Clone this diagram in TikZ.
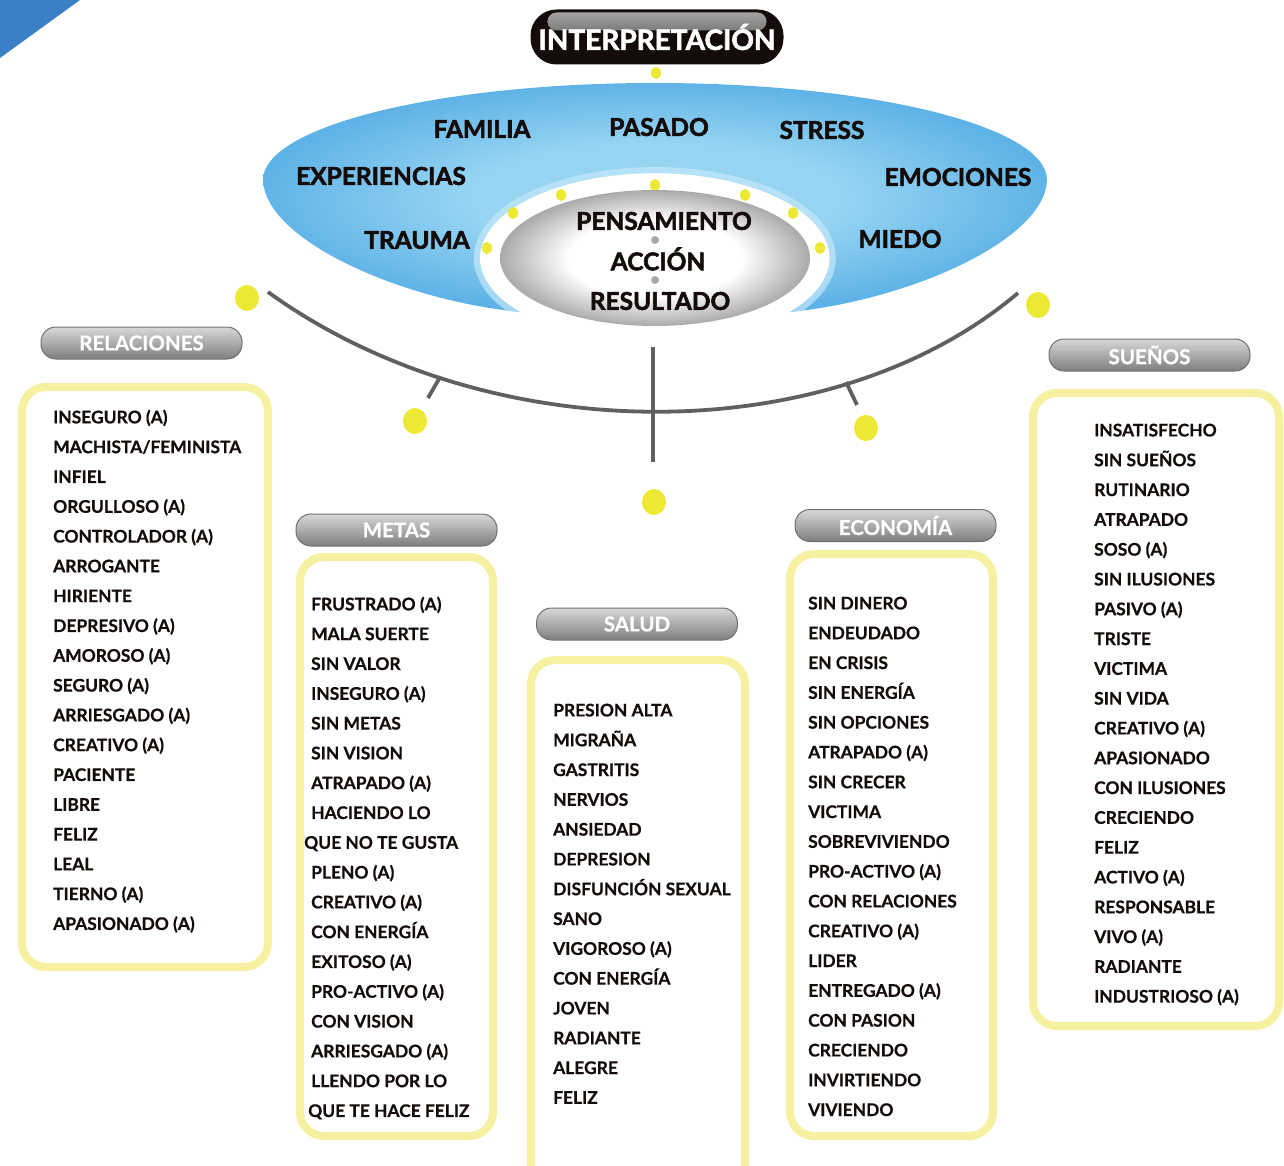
\documentclass[tikz,border=0pt]{standalone}
\usepackage{fontspec}
\setmainfont{Lato}
\newfontfamily\heavy{Lato}[BoldFeatures={FakeBold=2.2}]
\newfontfamily\semi{Lato}[BoldFeatures={FakeBold=0.6}]
\usetikzlibrary{positioning}
\definecolor{dotYel}{RGB}{236,232,52}
\definecolor{boxYel}{RGB}{246,241,160}
\definecolor{capBlue}{RGB}{59,128,198}
\definecolor{bowlIn}{RGB}{150,212,242}
\definecolor{bowlOut}{RGB}{34,142,218}
\definecolor{bowlRim}{RGB}{196,232,250}
\definecolor{eggOut}{RGB}{170,170,172}
\definecolor{hdTop}{RGB}{216,216,218}
\definecolor{hdMid}{RGB}{168,168,170}
\definecolor{hdBot}{RGB}{126,126,128}
\definecolor{hdLine}{RGB}{112,112,114}
\definecolor{arcGray}{RGB}{96,96,98}
\definecolor{inkBlack}{RGB}{20,12,10}
\definecolor{glossTop}{RGB}{170,170,170}
\definecolor{glossBot}{RGB}{50,48,48}
\pgfdeclareradialshading{bowl}{\pgfpoint{0bp}{0bp}}{color(0bp)=(bowlIn); color(12bp)=(bowlIn); color(40bp)=(bowlOut); color(60bp)=(bowlOut)}
\pgfdeclareradialshading{egg}{\pgfpoint{0bp}{0bp}}{color(0bp)=(white); color(14bp)=(white); color(25bp)=(eggOut); color(50bp)=(eggOut)}
\newcommand{\bowlpath}{(520,312) .. controls (400,300) and (265,240) .. (263,180)
  arc[start angle=180, end angle=360, x radius=392, y radius=97]
  .. controls (1045,240) and (910,300) .. (790,312)
  arc[start angle=39.4, end angle=-219.4, x radius=175, y radius=85] -- cycle}

\begin{document}
\begin{tikzpicture}[x=1pt,y=-1pt,
  ttl/.style ={fill=inkBlack,rounded corners=26pt,minimum width=253pt,minimum height=55pt,inner sep=0pt,
               text=white,font=\fontsize{28}{28}\selectfont\heavy\bfseries,
               path picture={\shade[top color=glossTop,bottom color=glossBot,rounded corners=9pt]
                 ([xshift=17pt,yshift=-3pt]path picture bounding box.north west) rectangle
                 ([xshift=-17pt,yshift=-21pt]path picture bounding box.north east);}},
  word/.style={text=inkBlack,inner sep=0pt,font=\fontsize{24.5}{24.5}\selectfont\heavy\bfseries},
  hdr/.style ={draw=hdLine,line width=1pt,rounded corners=15pt,top color=hdTop,middle color=hdMid,bottom color=hdBot,
               minimum width=201pt,minimum height=32pt,inner sep=0pt,text=white,font=\fontsize{20.5}{20.5}\selectfont\semi\bfseries},
  box/.style ={draw=boxYel,line width=8pt,rounded corners=24pt,fill=white},
  lst/.style ={align=left,anchor=north west,inner sep=0pt,text=inkBlack,font=\fontsize{17.4}{29.8}\selectfont\semi\bfseries},
  ydot/.style={fill=dotYel},
  bar/.style ={draw=arcGray,line width=3.8pt}]
\useasboundingbox (0,0) rectangle (1284,1166);

% corner tab
\fill[capBlue] (0,0) -- (80,0) -- (0,58) -- cycle;

% title
\node[ttl] (interp) at (657,37) {INTERPRETACIÓN};
\fill[ydot] (656,73) ellipse [x radius=5, y radius=6];

% blue bowl round the centre
\shade[shading=bowl] \bowlpath;
\begin{scope}
  \clip \bowlpath;
  \draw[bowlRim,line width=12pt,opacity=0.7] (790,312) arc[start angle=39.4, end angle=-219.4, x radius=175, y radius=85];
\end{scope}
\foreach \p in {(487,248),(513,213),(561,195),(655,185),(745,195),(793,213),(820,248)}
  \fill[ydot] \p ellipse [x radius=5, y radius=6];

\node[word] (familia) at (482,129) {FAMILIA};
\node[word] (pasado)  at (659,127) {PASADO};
\node[word] (stress)  at (822,130) {STRESS};
\node[word] (exper)   at (381,176) {EXPERIENCIAS};
\node[word] (emoc)    at (958,177) {EMOCIONES};
\node[word] (trauma)  at (417,240) {TRAUMA};
\node[word] (miedo)   at (900,239) {MIEDO};

% grey centre
\shade[shading=egg] (655,258) ellipse [x radius=155, y radius=68];
\fill[eggOut] (655,240) circle [radius=4];
\fill[eggOut] (655,280) circle [radius=4];
\node[word] (pens)   at (664,221) {PENSAMIENTO};
\node[word] (accion) at (658,259) {ACCIÓN};
\node[word] (result) at (660,301) {RESULTADO};

% branch arc
\draw[bar] (268,292) .. controls (488,451) and (830,452) .. (1018,293);
\draw[bar] (439,379) -- (428,398);
\draw[bar] (846,382) -- (857,405);
\draw[bar] (653,347) -- (653,462);
\foreach \p in {(247,298),(415,421),(654,502),(866,428),(1038,305)}
  \fill[ydot] \p ellipse [x radius=12, y radius=13];

% lists
\draw[box] (22,387) rectangle (268,967);
\draw[box] (300,557) rectangle (493,1136);
\draw[box] (531,660) rectangle (745,1190);
\draw[box] (790,554) rectangle (993,1136);
\draw[box] (1033,393) rectangle (1279,1026);

\node[hdr] (rel)  at (141.5,343) {RELACIONES};
\node[hdr] (metas) at (396.5,530) {METAS};
\node[hdr] (salud) at (637,624) {SALUD};
\node[hdr] (econ)  at (895.5,525.5) {ECONOMÍA};
\node[hdr] (suenos) at (1149.5,355) {SUEÑOS};

\node[lst] (relList) at (53,409.5) {INSEGURO (A)\\ MACHISTA/FEMINISTA\\ INFIEL\\ ORGULLOSO (A)\\ CONTROLADOR (A)\\ ARROGANTE\\
  HIRIENTE\\ DEPRESIVO (A)\\ AMOROSO (A)\\ SEGURO (A)\\ ARRIESGADO (A)\\ CREATIVO (A)\\ PACIENTE\\ LIBRE\\ FELIZ\\ LEAL\\
  TIERNO (A)\\ APASIONADO (A)};
\node[lst] (metList) at (311,596.5) {FRUSTRADO (A)\\ MALA SUERTE\\ SIN VALOR\\ INSEGURO (A)\\ SIN METAS\\ SIN VISION\\
  ATRAPADO (A)\\ HACIENDO LO\\ \hspace*{-7pt}QUE NO TE GUSTA\\ PLENO (A)\\ CREATIVO (A)\\ CON ENERGÍA\\ EXITOSO (A)\\
  PRO-ACTIVO (A)\\ CON VISION\\ ARRIESGADO (A)\\ LLENDO POR LO\\ \hspace*{-3pt}QUE TE HACE FELIZ};
\node[lst] (salList) at (553,703.5) {PRESION ALTA\\ MIGRAÑA\\ GASTRITIS\\ NERVIOS\\ ANSIEDAD\\ DEPRESION\\
  DISFUNCIÓN SEXUAL\\ SANO\\ VIGOROSO (A)\\ CON ENERGÍA\\ JOVEN\\ RADIANTE\\ ALEGRE\\ FELIZ};
\node[lst] (ecoList) at (808,596.5) {SIN DINERO\\ ENDEUDADO\\ EN CRISIS\\ SIN ENERGÍA\\ SIN OPCIONES\\ ATRAPADO (A)\\
  SIN CRECER\\ VICTIMA\\ SOBREVIVIENDO\\ PRO-ACTIVO (A)\\ CON RELACIONES\\ CREATIVO (A)\\ LIDER\\ ENTREGADO (A)\\
  CON PASION\\ CRECIENDO\\ INVIRTIENDO\\ VIVIENDO};
\node[lst] (sueList) at (1094,423.5) {INSATISFECHO\\ SIN SUEÑOS\\ RUTINARIO\\ ATRAPADO\\ SOSO (A)\\ SIN ILUSIONES\\
  PASIVO (A)\\ TRISTE\\ VICTIMA\\ SIN VIDA\\ CREATIVO (A)\\ APASIONADO\\ CON ILUSIONES\\ CRECIENDO\\ FELIZ\\
  ACTIVO (A)\\ RESPONSABLE\\ VIVO (A)\\ RADIANTE\\ INDUSTRIOSO (A)};
\end{tikzpicture}
\end{document}
